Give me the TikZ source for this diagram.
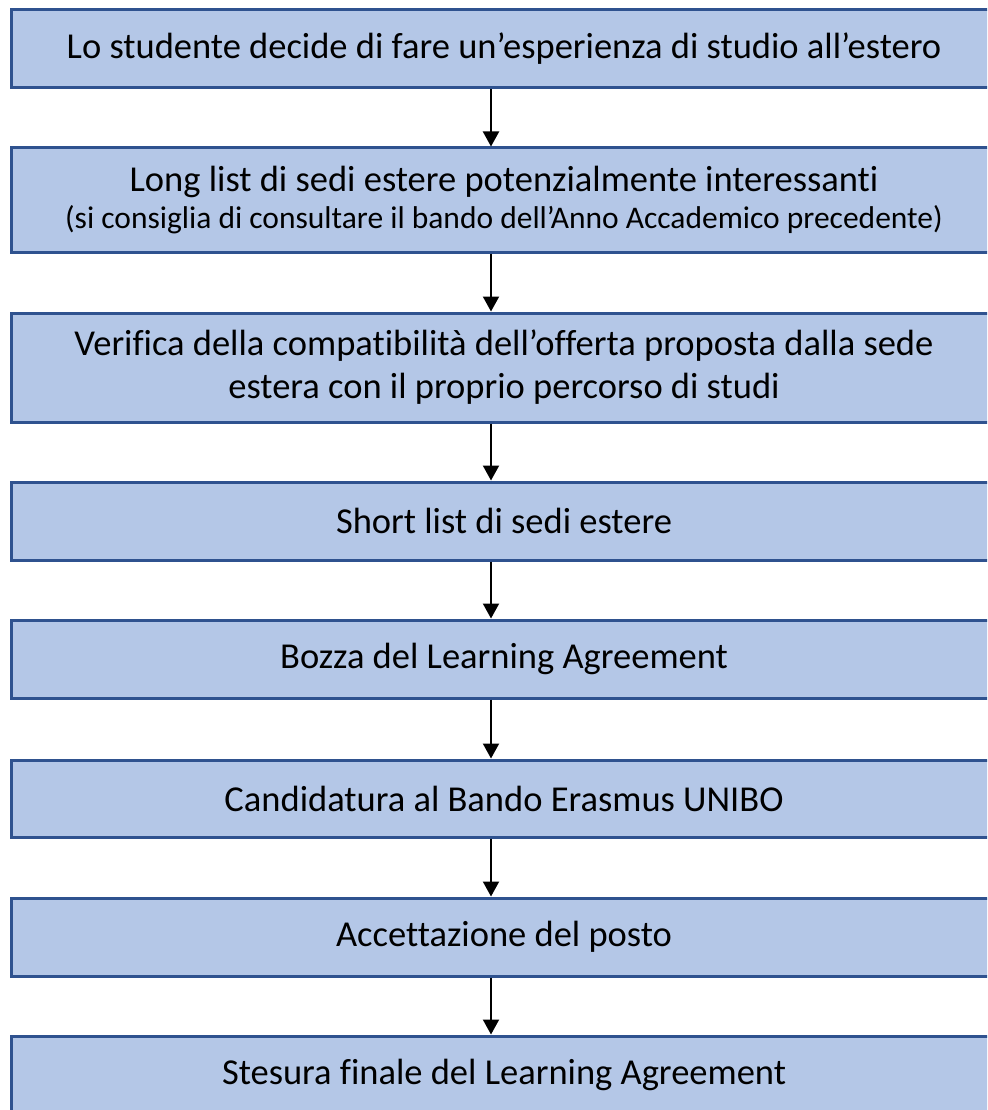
\documentclass[tikz,border=0pt]{standalone}
\usepackage{fontspec}
\setmainfont[Ligatures=NoCommon]{Carlito}
\usetikzlibrary{arrows.meta,calc}
\definecolor{boxfill}{HTML}{B4C7E7}
\definecolor{boxline}{HTML}{2F528F}
\begin{document}
\begin{tikzpicture}[x=1pt,y=1pt,
  stepbox/.style={draw=boxline,fill=boxfill,line width=3pt,rectangle,inner sep=0pt,
    minimum width=986pt,align=center,font=\fontsize{36.5}{43}\selectfont},
  conn/.style={line width=2pt,-{Triangle[width=16pt,length=15pt]}}]
\useasboundingbox (0,0) rectangle (987,-1110);
\clip (0,0) rectangle (987,-1110);
\node[stepbox,minimum height=78pt] (b1) at (504,-49) {Lo studente decide di fare un’esperienza di studio all’estero};
\node[stepbox,minimum height=104pt] (b2) at (504,-200) {Long list di sedi estere potenzialmente interessanti\\[-6pt]{\fontsize{31.5}{36}\selectfont (si consiglia di consultare il bando dell’Anno Accademico precedente)}};
\node[stepbox,minimum height=109pt] (b3) at (504,-367.5) {Verifica della compatibilità dell’offerta proposta dalla sede\\ estera con il proprio percorso di studi};
\node[stepbox,minimum height=78pt] (b4) at (504,-521) {Short list di sedi estere};
\node[stepbox,minimum height=78pt] (b5) at (504,-659) {Bozza del Learning Agreement};
\node[stepbox,minimum height=77pt] (b6) at (504,-798.5) {Candidatura al Bando Erasmus UNIBO};
\node[stepbox,minimum height=78pt] (b7) at (504,-937) {Accettazione del posto};
\node[stepbox,minimum height=78pt] (b8) at (504,-1075) {Stesura finale del Learning Agreement};
\coordinate (ax) at (491,0);
\foreach \a/\b in {b1/b2,b2/b3,b3/b4,b4/b5,b5/b6,b6/b7,b7/b8}{
  \draw[conn] (\a.south -| ax) -- (\b.north -| ax);
}
\end{tikzpicture}
\end{document}
